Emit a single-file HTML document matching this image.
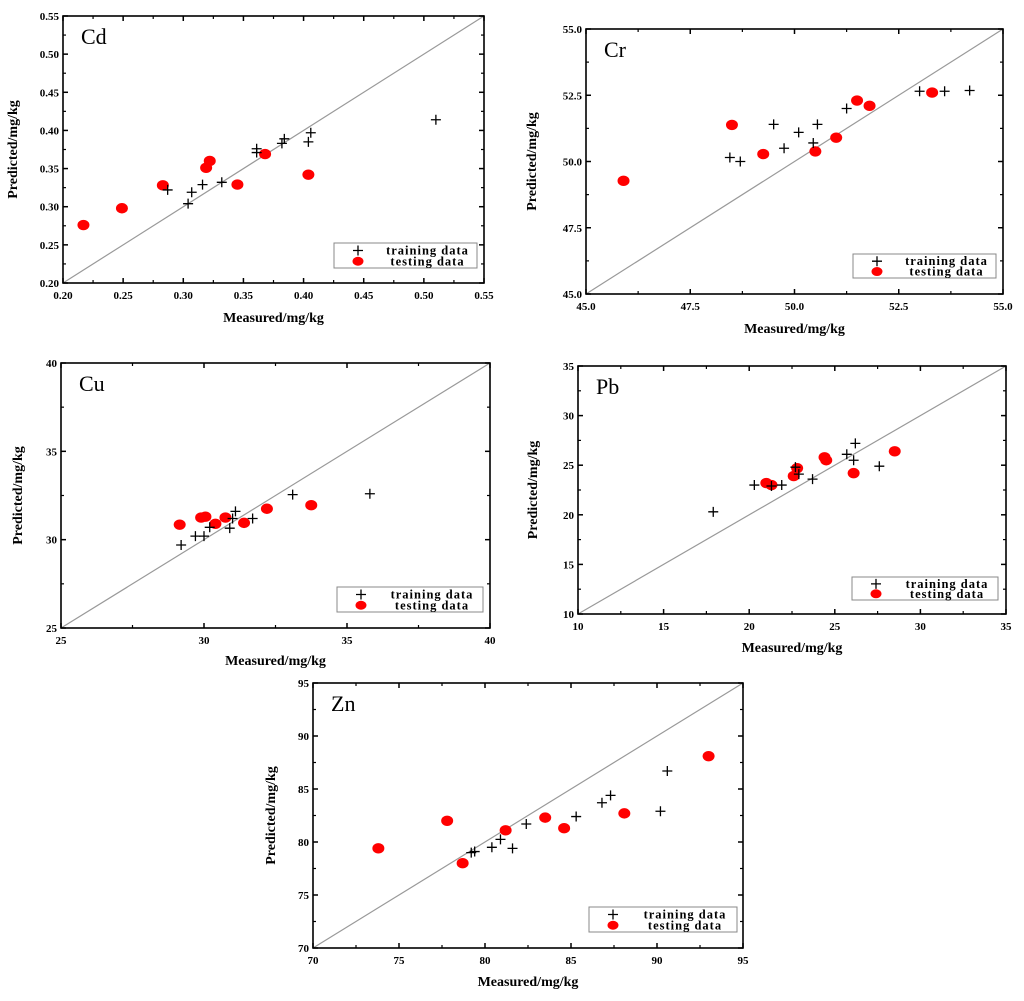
<!DOCTYPE html>
<html><head><meta charset="utf-8"><style>
html,body{margin:0;padding:0;background:#fff;}
svg{display:block;font-family:"Liberation Serif",serif;}
</style></head><body>
<svg id="fig" width="1024" height="1001" viewBox="0 0 1024 1001" xmlns="http://www.w3.org/2000/svg"></svg>
<script>
// ---- data ----
const cdTrainX=[0.287,0.307,0.304,0.316,0.332,0.361,0.361,0.382,0.384,0.404,0.406,0.510];
const cdTrainY=[0.322,0.319,0.304,0.329,0.332,0.376,0.371,0.383,0.389,0.385,0.397,0.414];
const cdTestX=[0.217,0.249,0.283,0.319,0.322,0.345,0.368,0.404];
const cdTestY=[0.276,0.298,0.328,0.351,0.360,0.329,0.369,0.342];
const cdTicks=["0.20","0.25","0.30","0.35","0.40","0.45","0.50","0.55"];

const crTrainX=[48.45,48.7,49.5,49.75,50.1,50.45,50.55,51.25,53.0,53.6,54.2];
const crTrainY=[50.15,50.0,51.4,50.5,51.1,50.7,51.4,52.0,52.65,52.65,52.68];
const crTestX=[45.9,48.5,49.25,50.5,51.0,51.5,51.8,53.3];
const crTestY=[49.27,51.38,50.28,50.38,50.9,52.3,52.1,52.6];
const crTicks=["45.0","47.5","50.0","52.5","55.0"];

const cuTrainX=[29.2,29.7,30.0,30.2,30.9,31.0,31.1,31.7,33.1,35.8];
const cuTrainY=[29.7,30.2,30.2,30.7,30.65,31.2,31.6,31.2,32.55,32.6];
const cuTestX=[29.15,29.9,30.05,30.4,30.75,31.4,32.2,33.75];
const cuTestY=[30.85,31.25,31.3,30.9,31.25,30.95,31.75,31.95];
const cuTicks=["25","30","35","40"];

const pbTrainX=[17.9,20.3,21.3,21.9,22.7,22.9,23.7,25.7,26.2,26.1,27.6];
const pbTrainY=[20.3,23.0,22.9,23.0,24.8,24.1,23.6,26.1,27.2,25.5,24.9];
const pbTestX=[21.0,21.3,22.6,22.8,24.4,24.5,26.1,28.5];
const pbTestY=[23.2,23.0,23.9,24.7,25.8,25.5,24.2,26.4];
const pbTicks=["10","15","20","25","30","35"];

const znTrainX=[79.2,79.4,80.4,80.9,81.6,82.4,85.3,86.8,87.3,90.2,90.6];
const znTrainY=[79.0,79.1,79.5,80.25,79.4,81.7,82.4,83.7,84.4,82.9,86.7];
const znTestX=[73.8,77.8,78.7,81.2,83.5,84.6,88.1,93.0];
const znTestY=[79.4,82.0,78.0,81.1,82.3,81.3,82.7,88.1];
const znTicks=["70","75","80","85","90","95"];

const NS="http://www.w3.org/2000/svg";
const svg=document.getElementById('fig');
function mk(tag,attrs,parent){const e=document.createElementNS(NS,tag);for(const k in attrs)e.setAttribute(k,attrs[k]);(parent||svg).appendChild(e);return e;}

function panel(key,name,L,R,T,B,ticks,trX,trY,teX,teY,leg,xtY,ytX){
  const g=mk('g',{});
  
  
  const min=parseFloat(ticks[0]),max=parseFloat(ticks[ticks.length-1]);
  const sx=v=>L+(v-min)/(max-min)*(R-L);
  const sy=v=>B-(v-min)/(max-min)*(B-T);
  // diagonal
  const d=mk('line',{x1:sx(min),y1:sy(min),x2:sx(max),y2:sy(max),stroke:'#999',"stroke-width":1.2},g);
  
  
  // frame
  const f=mk('rect',{x:L,y:T,width:R-L,height:B-T,fill:'none',stroke:'#000',"stroke-width":1.6},g);
  
  
  // ticks
  const n=ticks.length;
  for(let i=0;i<n;i++){
    const v=parseFloat(ticks[i]);
    const x=sx(v),y=sy(v);
    mk('line',{x1:x,y1:B,x2:x,y2:B-5,stroke:'#000',"stroke-width":1.5},g);
    mk('line',{x1:x,y1:T,x2:x,y2:T+5,stroke:'#000',"stroke-width":1.5},g);
    mk('line',{x1:L,y1:y,x2:L+5,y2:y,stroke:'#000',"stroke-width":1.5},g);
    mk('line',{x1:R,y1:y,x2:R-5,y2:y,stroke:'#000',"stroke-width":1.5},g);
    if(i<n-1){
      const m=(v+parseFloat(ticks[i+1]))/2;
      const mx=sx(m),my=sy(m);
      mk('line',{x1:mx,y1:B,x2:mx,y2:B-3,stroke:'#000',"stroke-width":1.2},g);
      mk('line',{x1:mx,y1:T,x2:mx,y2:T+3,stroke:'#000',"stroke-width":1.2},g);
      mk('line',{x1:L,y1:my,x2:L+3,y2:my,stroke:'#000',"stroke-width":1.2},g);
      mk('line',{x1:R,y1:my,x2:R-3,y2:my,stroke:'#000',"stroke-width":1.2},g);
    }
    const tx=mk('text',{x:x,y:B+16,"text-anchor":"middle","font-size":11,"font-weight":"bold"},g);
    tx.textContent=ticks[i];
    
    
    const ty=mk('text',{x:L-4,y:y+4,"text-anchor":"end","font-size":11,"font-weight":"bold"},g);
    ty.textContent=ticks[i];
    
    
  }
  // titles
  const xt=mk('text',{x:(L+R)/2,y:xtY,"text-anchor":"middle","font-size":14,"font-weight":"bold"},g);
  xt.textContent='Measured/mg/kg';
  
  
  const yc=(T+B)/2;
  const yt=mk('text',{x:ytX,y:yc,"text-anchor":"middle","font-size":14,"font-weight":"bold",transform:`rotate(-90 ${ytX} ${yc})`},g);
  yt.textContent='Predicted/mg/kg';
  
  
  const pt=mk('text',{x:L+18,y:T+28,"font-size":22},g);
  pt.textContent=name;
  
  
  // points
  for(let i=0;i<teX.length;i++){
    const c=mk('ellipse',{cx:sx(teX[i]),cy:sy(teY[i]),rx:6,ry:5.2,fill:'#f00'},g);
    
    
  }
  for(let i=0;i<trX.length;i++){
    const x=sx(trX[i]),y=sy(trY[i]);
    const p=mk('path',{d:`M${x-5},${y}H${x+5}M${x},${y-5}V${y+5}`,stroke:'#000',"stroke-width":1.3,fill:'none'},g);
    
    
  }
  // legend
  const [lx1,ly1,lx2,ly2]=leg;
  const lg=mk('g',{},g);
  
  
  mk('rect',{x:lx1,y:ly1,width:lx2-lx1,height:ly2-ly1,fill:'#fff',stroke:'#888',"stroke-width":1},lg);
  const h=ly2-ly1;
  const px=lx1+24,py1=ly1+h*0.3,py2=ly1+h*0.73;
  mk('path',{d:`M${px-5},${py1}H${px+5}M${px},${py1-5}V${py1+5}`,stroke:'#000',"stroke-width":1.3},lg);
  mk('ellipse',{cx:px,cy:py2,rx:5.5,ry:4.5,fill:'#f00'},lg);
  const t1=mk('text',{x:(lx1+lx2)/2+22,y:py1+4,"text-anchor":"middle","font-size":12.5,"font-weight":"bold","letter-spacing":"1"},lg);
  t1.textContent='training data';
  
  
  const t2=mk('text',{x:(lx1+lx2)/2+22,y:py2+4,"text-anchor":"middle","font-size":12.5,"font-weight":"bold","letter-spacing":"1"},lg);
  t2.textContent='testing data';
  
  
}

panel('cd','Cd',63,484,16,283,cdTicks,cdTrainX,cdTrainY,cdTestX,cdTestY,[334,243,477,268],322,17);
panel('cr','Cr',586,1003,29,294,crTicks,crTrainX,crTrainY,crTestX,crTestY,[853,254,996,278],333,536);
panel('cu','Cu',61,490,363,628,cuTicks,cuTrainX,cuTrainY,cuTestX,cuTestY,[337,587,483,612],665,22);
panel('pb','Pb',578,1006,366,614,pbTicks,pbTrainX,pbTrainY,pbTestX,pbTestY,[852,577,998,600],652,537);
panel('zn','Zn',313,743,683,948,znTicks,znTrainX,znTrainY,znTestX,znTestY,[589,907,737,932],986,275);
</script>
</body></html>
